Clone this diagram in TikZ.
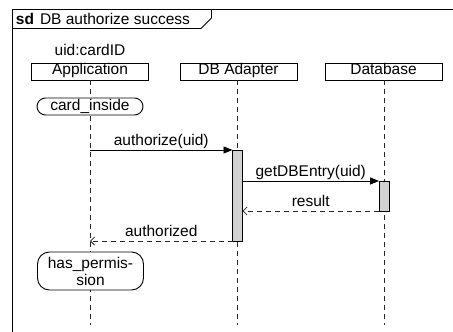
\documentclass[tikz,border=0pt]{standalone}
\usepackage{fontspec}
\setmainfont{Liberation Sans}
\usetikzlibrary{arrows.meta}
\begin{document}
\begin{tikzpicture}[x=1pt,y=-1pt,
  font=\fontsize{15.5}{17}\selectfont,
  every node/.style={inner sep=0pt, outer sep=0pt},
  frameline/.style={line width=0.9pt},
  lifebox/.style={draw, line width=0.9pt, minimum width=117pt, minimum height=17pt, text height=10.5pt, text depth=5.5pt},
  lifeline/.style={draw=black!85, line width=0.9pt, dash pattern=on 5pt off 4pt},
  actbar/.style={draw, line width=0.9pt, fill=black!18, minimum width=10pt},
  stadium/.style={draw, line width=0.9pt, minimum width=106pt, align=center},
  msg/.style={line width=0.9pt, -{Triangle[length=9pt,width=7pt]}},
  ret/.style={line width=0.9pt, draw=black!85, dash pattern=on 5pt off 4pt, -{Straight Barb[length=4pt,width=8pt,line width=0.8pt]}},
  msglabel/.style={midway, anchor=base, yshift=5pt}
]
\useasboundingbox (0,0) rectangle (453,332);
% frame
\coordinate (fBL) at (12.5,340);
\coordinate (fTL) at (12.5,9.5);
\coordinate (fTR) at (460,9.5);
\draw[frameline] (fBL) -- (fTL) -- (fTR);
\coordinate (tabA) at (12.5,28.5);
\coordinate (tabB) at (201,28.5);
\coordinate (tabC) at (211.5,18);
\coordinate (tabD) at (211.5,9.5);
\draw[frameline] (tabA) -- (tabB) -- (tabC) -- (tabD);
\node[anchor=base west] (sd) at (16,24) {\textbf{sd}};
\node[anchor=base west] (title) at (40,24) {DB authorize success};

% lifeline heads
\node[anchor=base] (obj) at (90,55) {uid:cardID};
\node[lifebox] (app) at (90,71.5) {Application};
\node[lifebox] (dba) at (238.5,71.5) {DB Adapter};
\node[lifebox] (db) at (383.5,71.5) {Database};

\coordinate (appEnd) at (90,325);
\coordinate (dbaEnd) at (237.5,325);
\coordinate (dbEnd) at (384,325);
\coordinate (appTop) at (90,80);
\coordinate (dbaTop) at (237.5,80);
\coordinate (dbTop) at (384,80);
\draw[lifeline] (appTop) -- (appEnd);
\draw[lifeline] (dbaTop) -- (dbaEnd);
\draw[lifeline] (dbTop) -- (dbEnd);

% states
\node[stadium, rounded corners=8.5pt, minimum height=17pt, text height=10.5pt, text depth=3.5pt, fill=white] (card) at (90,106.5) {card\_inside};
\node[stadium, rounded corners=12pt, minimum height=38pt, fill=white] (perm) at (90.5,271) {has\_permis-\\sion};

% activations
\node[actbar, minimum height=91pt] (actA) at (237.5,195.5) {};
\node[actbar, minimum height=30pt] (actB) at (384,196) {};

% messages
\coordinate (authS) at (90,150);
\draw[msg] (authS) -- (actA.north west) node[msglabel] {authorize(uid)};
\coordinate (getS) at (actA.east |- actB.north);
\draw[msg] (getS) -- (actB.north west) node[msglabel] {getDBEntry(uid)};
\coordinate (resE) at (actA.east |- actB.south);
\draw[ret] (actB.south west) -- (resE) node[msglabel] {result};
\coordinate (authE) at (90,241);
\draw[ret] (actA.south west) -- (authE) node[msglabel] {authorized};
\end{tikzpicture}
\end{document}
